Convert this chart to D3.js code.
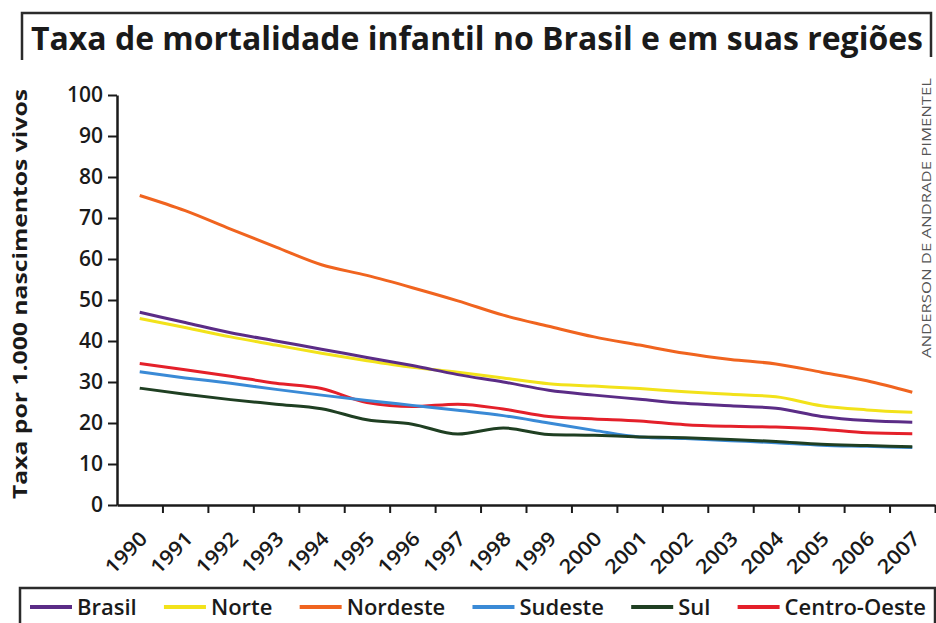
<!DOCTYPE html>
<html>
<head>
<meta charset="utf-8">
<script src="https://cdn.jsdelivr.net/npm/d3@7"></script>
<style>
  html, body { margin: 0; padding: 0; background: #fff; }
  svg { display: block; }
  text { font-family: "Open Sans", "Noto Sans", sans-serif; fill: #1a1a1a; }
</style>
</head>
<body>
<div id="chart"></div>
<script>
const years = d3.range(1990, 2008);
const yTicks = [0, 10, 20, 30, 40, 50, 60, 70, 80, 90, 100];

const brasil      = [47, 44.5, 42, 40, 38, 36, 34, 31.8, 30, 28, 26.8, 25.8, 24.8, 24.2, 23.6, 21.6, 20.6, 20.2];
const norte       = [45.5, 43.3, 41, 39, 37, 35.2, 33.6, 32.4, 31, 29.6, 29, 28.4, 27.6, 27, 26.4, 24.2, 23.2, 22.6];
const nordeste    = [75.5, 71.8, 67.3, 62.9, 58.6, 56, 53, 49.8, 46.3, 43.6, 41, 39, 37, 35.5, 34.4, 32.4, 30.3, 27.5];
const sudeste     = [32.5, 31, 29.7, 28.2, 26.8, 25.5, 24.3, 23.1, 21.8, 20, 18.2, 16.6, 16.2, 15.7, 15.2, 14.6, 14.3, 14];
const centroOeste = [34.5, 33, 31.4, 29.7, 28.4, 25, 24, 24.6, 23.4, 21.6, 21, 20.5, 19.6, 19.2, 19, 18.5, 17.6, 17.4];
const sul         = [28.5, 27, 25.7, 24.6, 23.5, 20.8, 19.7, 17.3, 18.8, 17.2, 17, 16.6, 16.4, 16, 15.5, 14.8, 14.5, 14.2];

const seriesNames = ["Brasil", "Norte", "Nordeste", "Sudeste", "Sul", "Centro-Oeste"];
const seriesValues = [brasil, norte, nordeste, sudeste, sul, centroOeste];
const seriesColors = ["#5b2c86", "#f2e21a", "#f0641f", "#3a8ad6", "#1f3f22", "#e4202a"];
// drawing order, bottom first
const drawOrder = [1, 0, 2, 5, 3, 4];

const width = 936, height = 623;
const svg = d3.select("#chart").append("svg")
  .attr("width", width)
  .attr("height", height);

// title box
svg.append("path")
  .attr("fill", "none").attr("stroke", "#2b2b2b").attr("stroke-width", 2.5)
  .attr("d", "M22,60V13H931V57");

svg.append("text")
  .attr("x", 31).attr("y", 50)
  .attr("font-size", 32).attr("font-weight", 700)
  .attr("textLength", 892).attr("lengthAdjust", "spacingAndGlyphs")
  .text("Taxa de mortalidade infantil no Brasil e em suas regiões");

// scales
const x = d3.scaleLinear().domain([1989.5, 2007.5]).range([117, 935]);
const y = d3.scaleLinear().domain([0, 100]).range([505, 95]);

// y axis
const gy = svg.append("g")
  .attr("transform", "translate(117,0)")
  .call(d3.axisLeft(y).tickValues(yTicks).tickSize(9).tickSizeOuter(0).tickPadding(5));
gy.select(".domain").attr("stroke", "#1a1a1a").attr("stroke-width", 2.5);
gy.selectAll(".tick line").attr("stroke", "#1a1a1a").attr("stroke-width", 2);
gy.selectAll(".tick text")
  .attr("font-size", 21).attr("font-weight", 600).attr("fill", "#1a1a1a")
  .attr("font-family", "'Open Sans', sans-serif");

// x axis, ticks on year boundaries
const gx = svg.append("g")
  .attr("transform", "translate(0,505)")
  .call(d3.axisBottom(x).tickValues(d3.range(1990.5, 2008, 1)).tickSize(8).tickSizeOuter(0).tickFormat(""));
gx.select(".domain").attr("stroke", "#1a1a1a").attr("stroke-width", 2.5);
gx.selectAll(".tick line").attr("stroke", "#1a1a1a").attr("stroke-width", 2);

svg.append("g").selectAll("text")
  .data(years)
  .join("text")
  .attr("transform", d => `translate(${x(d) + 4},${535}) rotate(-45)`)
  .attr("text-anchor", "end")
  .attr("dy", "0.35em")
  .attr("font-size", 20).attr("font-weight", 600)
  .attr("textLength", 50).attr("lengthAdjust", "spacingAndGlyphs")
  .text(d => d);

// y label
svg.append("text")
  .attr("transform", "translate(27,294) rotate(-90)")
  .attr("text-anchor", "middle")
  .attr("font-size", 20).attr("font-weight", 700)
  .attr("textLength", 410).attr("lengthAdjust", "spacingAndGlyphs")
  .text("Taxa por 1.000 nascimentos vivos");

// credit
svg.append("text")
  .attr("transform", "translate(931,218) rotate(-90)")
  .attr("text-anchor", "middle")
  .attr("font-family", "'Liberation Sans Narrow', 'Liberation Sans', sans-serif")
  .attr("font-size", 12).style("fill", "#555")
  .attr("textLength", 280).attr("lengthAdjust", "spacingAndGlyphs")
  .text("ANDERSON DE ANDRADE PIMENTEL");

// lines
const line = d3.line()
  .x((d, i) => x(years[i]))
  .y(d => y(d))
  .curve(d3.curveMonotoneX);

svg.append("g").selectAll("path")
  .data(drawOrder)
  .join("path")
  .attr("fill", "none")
  .attr("stroke", i => seriesColors[i])
  .attr("stroke-width", 3)
  .attr("stroke-linejoin", "round")
  .attr("d", i => line(seriesValues[i]));

// legend
svg.append("rect")
  .attr("x", 20).attr("y", 588)
  .attr("width", 915).attr("height", 50)
  .attr("fill", "none").attr("stroke", "#2b2b2b").attr("stroke-width", 2.5);

const legend = svg.append("g");
const items = seriesNames.map((name, i) => {
  const sw = legend.append("line")
    .attr("y1", 607).attr("y2", 607)
    .attr("stroke", seriesColors[i]).attr("stroke-width", 4);
  const t = legend.append("text")
    .attr("y", 615)
    .attr("font-size", 22).attr("font-weight", 600)
    .text(name);
  return { sw, t, w: t.node().getComputedTextLength() };
});
const used = d3.sum(items, d => 47 + d.w);
const gap = (926 - 30 - used) / (items.length - 1);
let lx = 30;
items.forEach(d => {
  d.sw.attr("x1", lx).attr("x2", lx + 42);
  d.t.attr("x", lx + 47);
  lx += 47 + d.w + gap;
});
</script>
</body>
</html>
